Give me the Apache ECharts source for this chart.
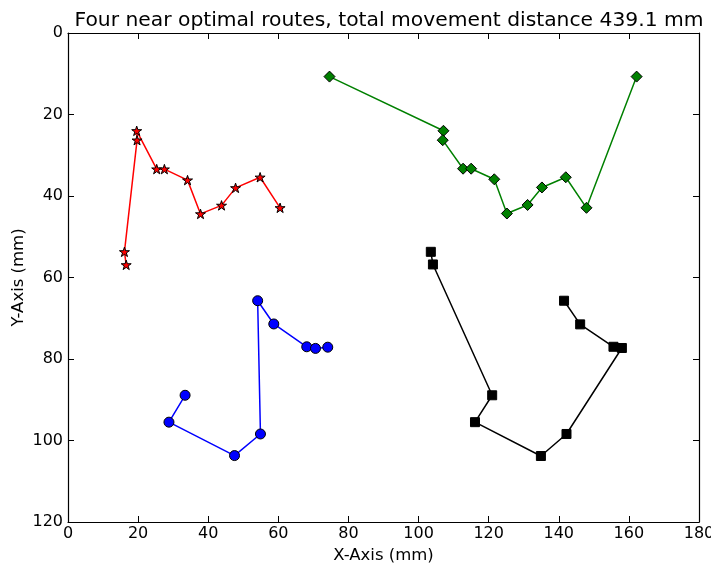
<!DOCTYPE html>
<html>
<head>
<meta charset="utf-8">
<script src="https://cdn.jsdelivr.net/npm/echarts@6/dist/echarts.min.js"></script>
<style>
  html, body { margin: 0; padding: 0; background: #fff; }
  #chart { width: 711px; height: 568px; }
</style>
</head>
<body>
<div id="chart"></div>
<script>
// route points [x mm, y mm], in drawing order
const redRoute = [
  [16.6, 56.9], [16.1, 53.7], [19.7, 26.3], [19.6, 24.0], [25.3, 33.4],
  [27.5, 33.4], [34.1, 36.1], [37.8, 44.4], [43.8, 42.3], [47.8, 38.0],
  [54.8, 35.4], [60.5, 42.9]
];
const blueRoute = [
  [33.4, 88.9], [28.8, 95.5], [47.5, 103.7], [54.9, 98.4], [54.1, 65.7],
  [58.7, 71.4], [68.1, 77.0], [70.6, 77.4], [74.1, 77.1]
];
const greenRoute = [
  [74.6, 10.7], [107.1, 24.0], [106.9, 26.3], [112.7, 33.3], [115.0, 33.3],
  [121.6, 35.9], [125.2, 44.3], [131.1, 42.2], [135.2, 37.9], [142.0, 35.4],
  [147.9, 42.9], [162.2, 10.7]
];
const blackRoute = [
  [103.5, 53.7], [104.1, 56.8], [121.0, 88.9], [116.1, 95.5], [134.9, 103.8],
  [142.2, 98.4], [158.0, 77.3], [155.6, 77.0], [146.1, 71.5], [141.5, 65.7]
];

const titleText = "Four near optimal routes, total movement distance 439.1 mm";
const xName = "X-Axis (mm)";
const yName = "Y-Axis (mm)";

const starPath = "path://M0,-1L0.2245,-0.309L0.951,-0.309L0.363,0.118L0.588,0.809L0,0.382L-0.588,0.809L-0.363,0.118L-0.951,-0.309L-0.2245,-0.309Z";
const diamondPath = "path://M0,-1L1,0L0,1L-1,0Z";

const font = "DejaVu Sans";

function route(data, color, symbol, size) {
  return {
    type: "line",
    data: data,
    symbol: symbol,
    symbolSize: size,
    symbolKeepAspect: true,
    showAllSymbol: true,
    animation: false,
    lineStyle: { color: color, width: 1.5 },
    itemStyle: { color: color, borderColor: "#000", borderWidth: 1 },
    z: 3
  };
}

const chart = echarts.init(document.getElementById("chart"), null, { renderer: "canvas" });

const tickStyle = { inside: true, length: 6, lineStyle: { color: "#000", width: 1 } };
const lineStyle = { show: true, onZero: false, lineStyle: { color: "#000", width: 1.2 } };

chart.setOption({
  backgroundColor: "#fff",
  animation: false,
  title: {
    text: titleText,
    left: 384,
    textAlign: "center",
    top: 6,
    textStyle: { fontFamily: font, fontSize: 20.3, fontWeight: "normal", color: "#000" }
  },
  grid: { left: 68, right: 12, top: 33, bottom: 46, outerBoundsMode: "none", containLabel: false },
  xAxis: [
    {
      type: "value", min: 0, max: 180, interval: 20,
      name: xName, nameLocation: "middle", nameGap: 24,
      nameTextStyle: { fontFamily: font, fontSize: 16.5, color: "#000" },
      axisLine: lineStyle, axisTick: tickStyle,
      axisLabel: { fontFamily: font, fontSize: 16, color: "#000", margin: 4 },
      splitLine: { show: false }
    },
    {
      type: "value", min: 0, max: 180, interval: 20, position: "top",
      axisLine: lineStyle, axisTick: tickStyle,
      axisLabel: { show: false }, splitLine: { show: false }
    }
  ],
  yAxis: [
    {
      type: "value", min: 0, max: 120, interval: 20, inverse: true,
      name: yName, nameLocation: "middle", nameGap: 41, nameRotate: 90,
      nameMoveOverlap: false,
      nameTextStyle: { fontFamily: font, fontSize: 16.5, color: "#000" },
      axisLine: lineStyle, axisTick: tickStyle,
      axisLabel: { fontFamily: font, fontSize: 16, color: "#000", margin: 5 },
      splitLine: { show: false }
    },
    {
      type: "value", min: 0, max: 120, interval: 20, inverse: true, position: "right",
      axisLine: lineStyle, axisTick: tickStyle,
      axisLabel: { show: false }, splitLine: { show: false }
    }
  ],
  series: [
    route(redRoute, "#ff0000", starPath, 10),
    route(blueRoute, "#0000ff", "circle", 10),
    route(greenRoute, "#008000", diamondPath, 11),
    route(blackRoute, "#000000", "rect", 9)
  ]
});
</script>
</body>
</html>
